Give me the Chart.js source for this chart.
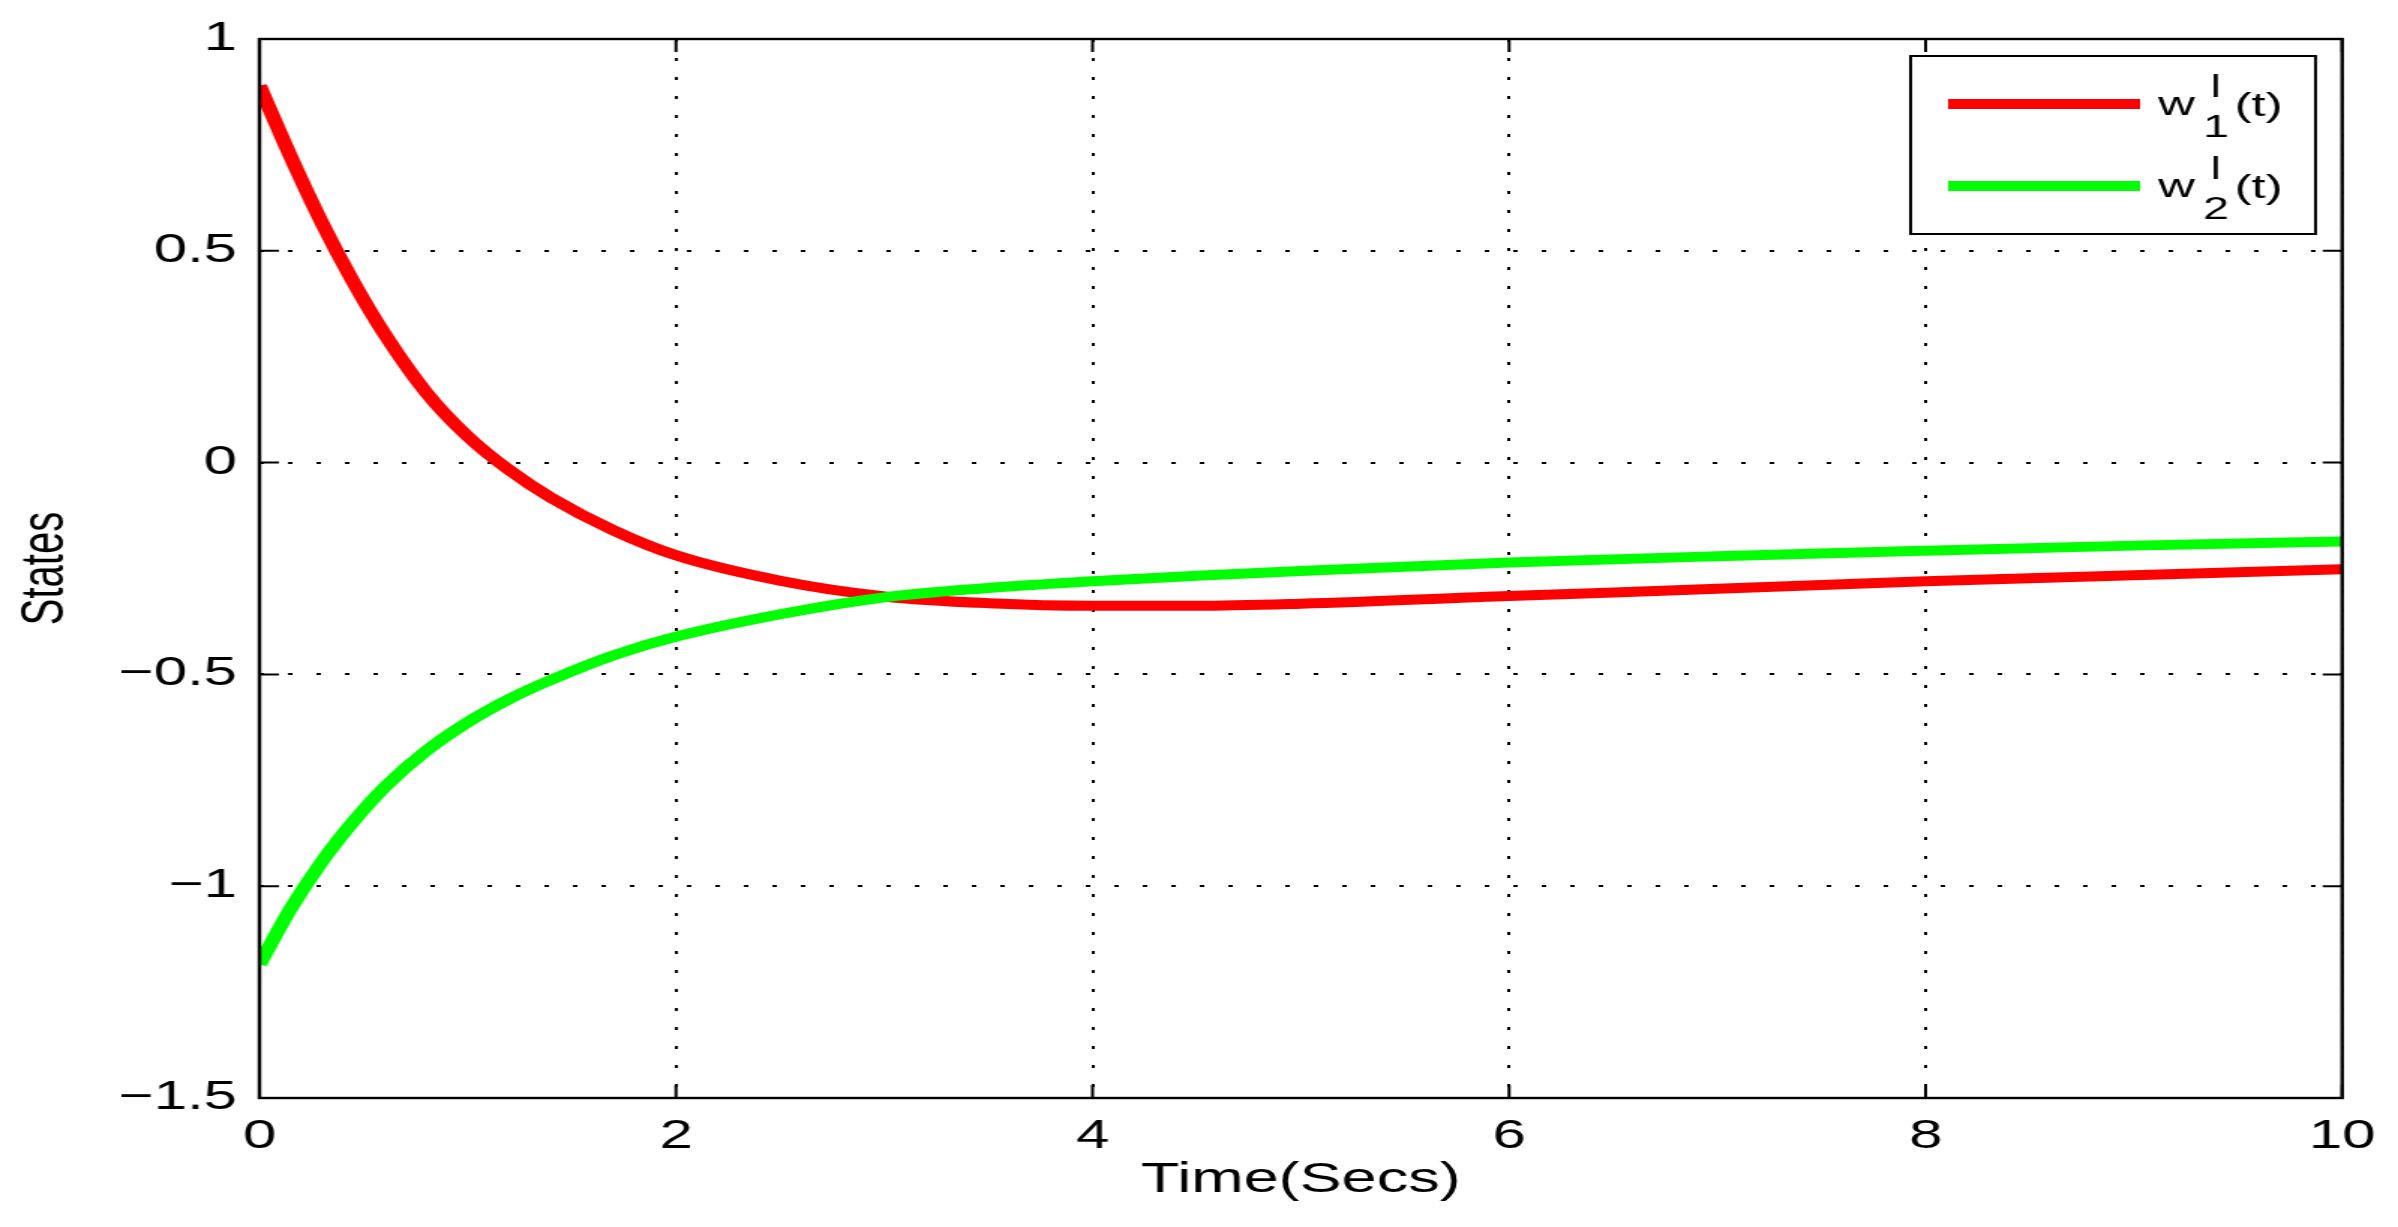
<!DOCTYPE html>
<html>
<head>
<meta charset="utf-8">
<script src="https://cdn.jsdelivr.net/npm/chart.js@4/dist/chart.umd.min.js"></script>
<style>
  html, body { margin: 0; padding: 0; background: #fff; overflow: hidden; }
  /* the reference is a figure stretched sideways, so the chart is drawn narrow and widened */
  #wrap { width: 1599px; height: 1227px; transform: scaleX(1.4997); transform-origin: 0 0; }
</style>
</head>
<body>
<div id="wrap"><canvas id="chart" width="1599" height="1227"></canvas></div>
<script>
// values
const timeSecs = [0, 0.15, 0.3, 0.45, 0.6, 0.8, 1, 1.2, 1.4, 1.7, 2, 2.5, 3, 3.5, 4, 4.5, 5, 6, 7, 8, 9, 10];
const w1 = [0.89, 0.722, 0.566, 0.427, 0.304, 0.166, 0.062, -0.018, -0.083, -0.16, -0.219, -0.279, -0.316, -0.332, -0.338, -0.338, -0.333, -0.315, -0.298, -0.28, -0.266, -0.252];
const w2 = [-1.185, -1.053, -0.942, -0.848, -0.767, -0.681, -0.613, -0.558, -0.513, -0.455, -0.411, -0.358, -0.318, -0.296, -0.28, -0.267, -0.256, -0.236, -0.221, -0.208, -0.196, -0.186];
const xTicks = [0, 2, 4, 6, 8, 10];
const yTicks = [-1.5, -1, -0.5, 0, 0.5, 1];
const seriesSubs = ['1', '2'];
const seriesColors = ['#ff0000', '#00ff00'];

function points(ys) {
    return timeSecs.map(function (t, i) { return {x: t, y: ys[i]}; });
}

function tickText(v) {
    return v < 0 ? '\u2212' + String(-v) : String(v);
}

Chart.defaults.font.family = "'Liberation Sans', Arial, sans-serif";
Chart.defaults.color = '#000';

// box, inner tick marks and the boxed legend
const matlabFrame = {
    id: 'matlabFrame',
    afterDraw(chart) {
        const ctx = chart.ctx;
        const a = chart.chartArea;
        const xs = chart.scales.x, ys = chart.scales.y;
        const tl = 13;
        ctx.save();
        ctx.strokeStyle = '#000';
        ctx.lineWidth = 2;
        ctx.setLineDash([]);
        ctx.beginPath();
        xTicks.forEach(function (v) {
            const px = xs.getPixelForValue(v);
            ctx.moveTo(px, a.bottom); ctx.lineTo(px, a.bottom - tl);
            ctx.moveTo(px, a.top); ctx.lineTo(px, a.top + tl);
        });
        yTicks.forEach(function (v) {
            const py = ys.getPixelForValue(v);
            ctx.moveTo(a.left, py); ctx.lineTo(a.left + tl, py);
            ctx.moveTo(a.right, py); ctx.lineTo(a.right - tl, py);
        });
        ctx.stroke();
        ctx.lineWidth = 2.4;
        ctx.strokeRect(a.left, a.top, a.right - a.left, a.bottom - a.top);

        // legend
        const lx = 1274, ly = 56, lw = 270, lh = 178;
        ctx.fillStyle = '#fff';
        ctx.fillRect(lx, ly, lw, lh);
        ctx.lineWidth = 2;
        ctx.strokeRect(lx, ly, lw, lh);
        seriesSubs.forEach(function (sub, i) {
            const cy = 104 + i * 82;
            ctx.strokeStyle = seriesColors[i];
            ctx.lineWidth = 10;
            ctx.beginPath();
            ctx.moveTo(1299, cy); ctx.lineTo(1427, cy);
            ctx.stroke();
            ctx.fillStyle = '#000';
            ctx.textBaseline = 'alphabetic';
            ctx.textAlign = 'left';
            ctx.font = "34px 'Liberation Sans', Arial, sans-serif";
            ctx.fillText('w', 1439, cy + 11);
            ctx.fillText('(t)', 1490, cy + 12);
            ctx.font = "31px 'Liberation Sans', Arial, sans-serif";
            ctx.fillText('l', 1474, cy - 7);
            ctx.fillText(sub, 1469, cy + 33);
        });
        ctx.restore();
    }
};

new Chart(document.getElementById('chart'), {
    type: 'line',
    data: {
        datasets: [
            {
                label: 'w1',
                data: points(w1),
                borderColor: seriesColors[0],
                borderWidth: 10,
                pointRadius: 0,
                cubicInterpolationMode: 'monotone',
                borderCapStyle: 'butt',
                order: 1
            },
            {
                label: 'w2',
                data: points(w2),
                borderColor: seriesColors[1],
                borderWidth: 10,
                pointRadius: 0,
                cubicInterpolationMode: 'monotone',
                borderCapStyle: 'butt',
                order: 0
            }
        ]
    },
    options: {
        responsive: false,
        animation: false,
        layout: { padding: { left: 0, right: 34, top: 35, bottom: 0 } },
        plugins: { legend: { display: false }, tooltip: { enabled: false } },
        scales: {
            x: {
                type: 'linear',
                min: xTicks[0],
                max: xTicks[xTicks.length - 1],
                afterBuildTicks(scale) { scale.ticks = xTicks.map(function (v) { return {value: v}; }); },
                afterFit(scale) { scale.height = 129; },
                ticks: { font: { size: 40 }, padding: 15, maxRotation: 0, callback: tickText },
                grid: { color: '#000', lineWidth: 2, drawTicks: false },
                border: { display: false, dash: [3, 16] },
                title: { display: true, text: 'Time(Secs)', font: { size: 42 }, padding: { top: 0, bottom: 21 } }
            },
            y: {
                min: yTicks[0],
                max: yTicks[yTicks.length - 1],
                afterBuildTicks(scale) { scale.ticks = yTicks.map(function (v) { return {value: v}; }); },
                afterFit(scale) { scale.width = 173; },
                ticks: { font: { size: 40 }, padding: 15, callback: tickText },
                grid: { color: '#000', lineWidth: 2, drawTicks: false },
                border: { display: false, dash: [3, 16] },
                title: { display: true, text: 'States', font: { size: 40 }, padding: { top: 7, bottom: 0 } }
            }
        }
    },
    plugins: [matlabFrame]
});
</script>
</body>
</html>
